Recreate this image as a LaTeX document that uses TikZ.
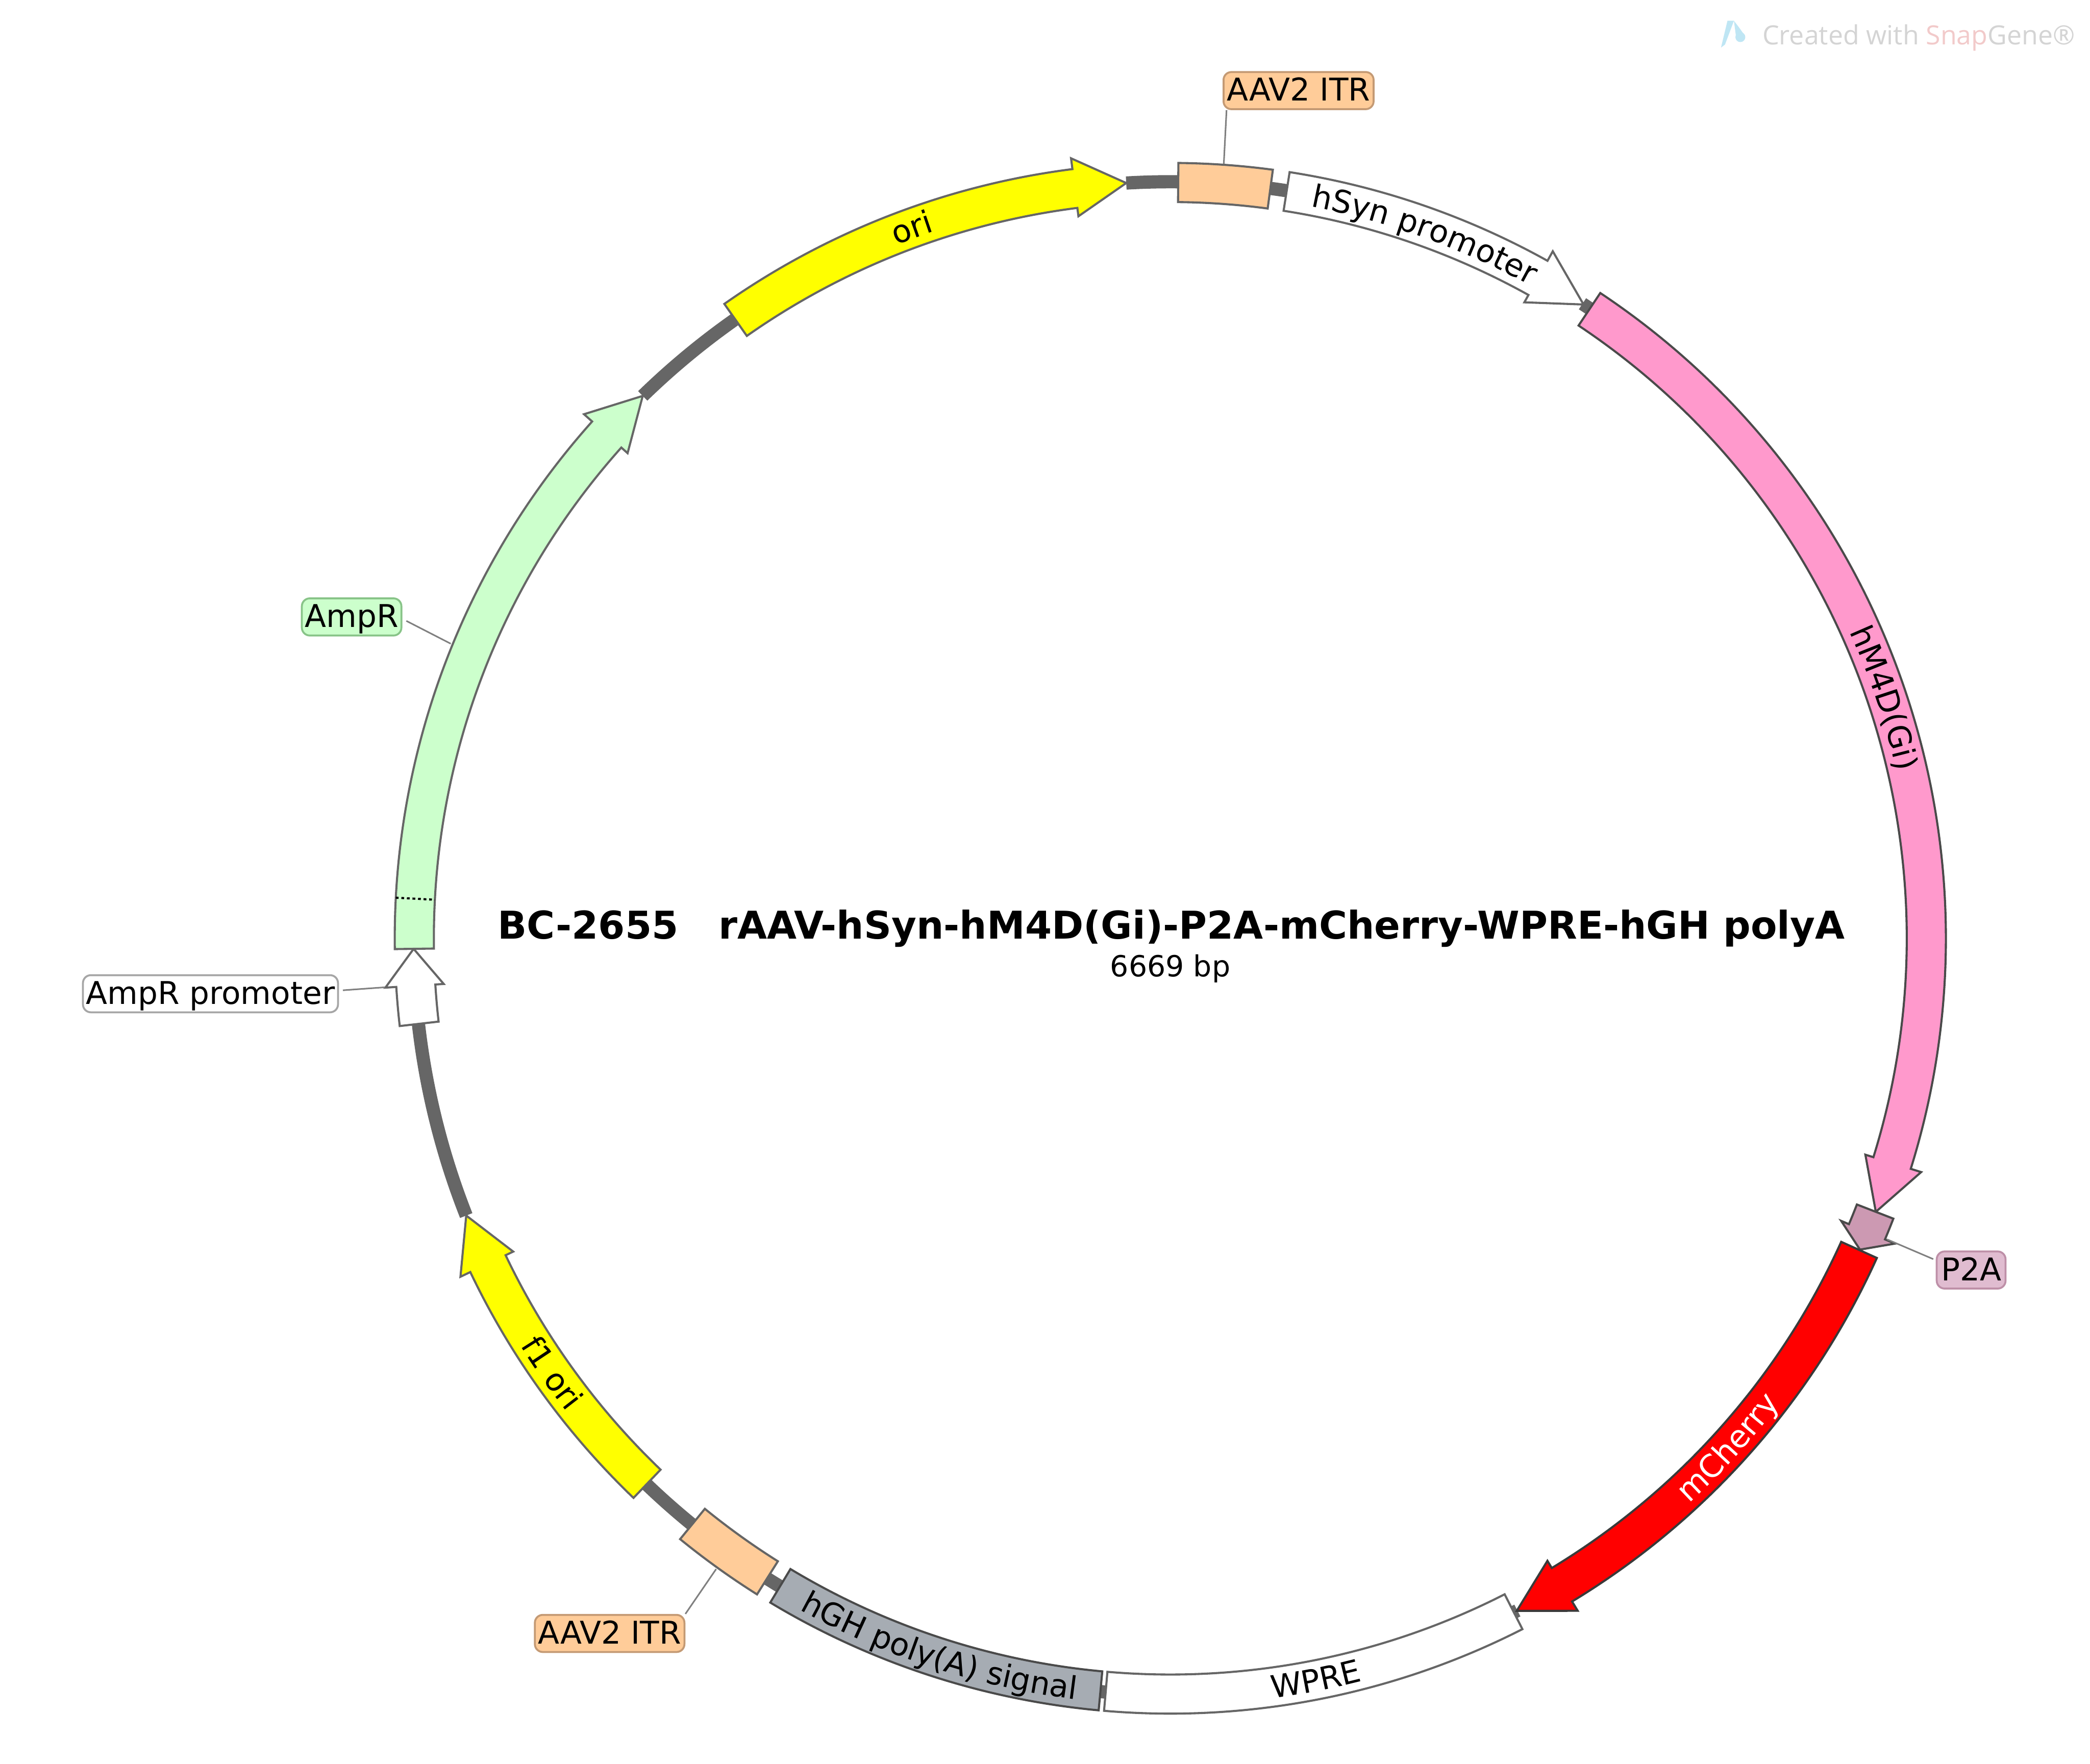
\documentclass[tikz,border=0pt]{standalone}
\usepackage{fontspec}
\setmainfont{DejaVu Sans}
\newfontfamily\wmfont{Open Sans}
\usetikzlibrary{decorations.text}
\newcommand{\lblf}{\fontsize{18pt}{20pt}\selectfont}
\definecolor{edgeA}{HTML}{666666}
\definecolor{edgeB}{HTML}{4A4A4A}
\definecolor{edgeC}{HTML}{3A3A3A}
\definecolor{itrfill}{HTML}{FFCC99}
\definecolor{itredge}{HTML}{C49A74}
\definecolor{m4fill}{HTML}{FF99CC}
\definecolor{p2fill}{HTML}{CC99B2}
\definecolor{p2edge}{HTML}{BE90A8}
\definecolor{p2lab}{HTML}{E0BCD0}
\definecolor{hghfill}{HTML}{A6ACB3}
\definecolor{ampfill}{HTML}{CCFFCC}
\definecolor{ampedge}{HTML}{88C488}
\definecolor{wmgrey}{HTML}{D4D4D4}
\definecolor{wmred}{HTML}{F2CACA}
\definecolor{wmblue}{HTML}{BFE6F4}
\definecolor{pureyellow}{HTML}{FFFF00}
\definecolor{purered}{HTML}{FF0000}
\tikzset{
  feat/.style={line width=1.2pt,line join=miter,miter limit=10},
  bb/.style={draw=edgeA,line width=7.6pt},
  lab/.style={rounded corners=0.16cm,line width=1.1pt,minimum height=0.75cm,inner xsep=0.06cm,inner ysep=0pt,font=\lblf,text height=0.50cm,text depth=0.08cm},
  lead/.style={draw=black!50,line width=0.9pt}
}
\newcommand{\Ro}{15.66}
\newcommand{\Ri}{14.87}
\newcommand{\Bo}{15.88}
\newcommand{\Bi}{14.70}
\newcommand{\Rm}{15.28}
% style, start, head base, tip
\newcommand{\featarrow}[4]{\draw[feat,#1] ({90-(#2)}:\Ro) arc[start angle={90-(#2)},end angle={90-(#3)},radius=\Ro] -- ({90-(#3)}:\Bo) -- ({90-(#4)}:\Rm) -- ({90-(#3)}:\Bi) -- ({90-(#3)}:\Ri) arc[start angle={90-(#3)},end angle={90-(#2)},radius=\Ri] -- cycle;}
\newcommand{\featbox}[3]{\draw[feat,#1] ({90-(#2)}:\Ro) arc[start angle={90-(#2)},end angle={90-(#3)},radius=\Ro] -- ({90-(#3)}:\Ri) arc[start angle={90-(#3)},end angle={90-(#2)},radius=\Ri] -- cycle;}
\newcommand{\backb}[2]{\draw[bb] ({90-(#1)}:\Rm) arc[start angle={90-(#1)},end angle={90-(#2)},radius=\Rm];}
% clockwise text: centre angle, format, text
\newcommand{\cwtext}[3]{\path[decorate,decoration={text along path,text align=center,text={|\lblf#2|#3}}] ({90-(#1-25)}:15.05) arc[start angle={90-(#1-25)},end angle={90-(#1+25)},radius=15.05];}
\newcommand{\ccwtext}[3]{\path[decorate,decoration={text along path,text align=center,text={|\lblf#2|#3}}] ({90-(#1+25)}:15.49) arc[start angle={90-(#1+25)},end angle={90-(#1-25)},radius=15.49];}
\begin{document}
\begin{tikzpicture}
\useasboundingbox[fill=white] (-23.63,18.95) rectangle (18.57,-16.67);

% backbone
\backb{356.66}{360.7}
\backb{7.5}{8.9}
\backb{33.0}{33.8}
\backb{184.9}{185.4}
\backb{211}{212.3}
\backb{219.1}{223.9}
\backb{248.5}{263.6}
\backb{315.8}{325}
\backb{152.7}{153.1}

% features
\featbox{fill=itrfill,draw=edgeB!85!white}{0.6}{7.6}
\featarrow{fill=white,draw=edgeA}{8.85}{29.1}{33.1}
\featarrow{fill=m4fill,draw=edgeB}{33.67}{107.3}{111.2}
\featarrow{fill=p2fill,draw=edgeB}{111.2}{112.85}{114.3}
\featarrow{fill=purered,draw=edgeC}{114.35}{148.8}{152.75}
\featbox{fill=white,draw=edgeA}{153}{184.9}
\featbox{fill=hghfill,draw=edgeB}{185.3}{211.05}
\featbox{fill=itrfill,draw=edgeB!85!white}{212.2}{219.2}
\featarrow{fill=pureyellow,draw=edgeA}{223.8}{244.5}{248.5}
\featarrow{fill=white,draw=edgeA}{263.5}{266.4}{269.2}
\featarrow{fill=ampfill,draw=edgeA}{269.2}{311.8}{315.8}
\featarrow{fill=pureyellow,draw=edgeA}{324.9}{352.75}{356.66}
\draw[black,line width=1.2pt,dash pattern=on 1.6pt off 1.6pt] ({90-273}:\Ro) -- ({90-273}:\Ri);

% text on features
\cwtext{19.85}{}{hSyn promoter}
\cwtext{71.4}{}{hM4D(Gi)}
\ccwtext{132.4}{\color{white}}{mCherry}
\ccwtext{168.9}{}{WPRE}
\ccwtext{198}{}{hGH poly(A) signal}
\ccwtext{234.9}{}{f1 ori}
\cwtext{340}{}{ori}

% outside labels
\node[lab,draw=itredge,fill=itrfill,minimum width=3.03cm] (itra) at (2.59,17.12) {AAV2 ITR};
\node[lab,draw=itredge,fill=itrfill,minimum width=3.02cm] (itrb) at (-11.32,-14.04) {AAV2 ITR};
\node[lab,draw=p2edge,fill=p2lab,minimum width=1.39cm] (p2a) at (16.17,-6.70) {P2A};
\node[lab,draw=ampedge,fill=ampfill,minimum width=1.94cm] (ampr) at (-16.53,6.49) {AmpR};
\node[lab,draw=black!35,fill=white,minimum width=5.15cm] (apr) at (-19.38,-1.12) {AmpR promoter};

% leader ends
\coordinate (eitra) at (1.08,15.64);
\coordinate (eitrb) at (-9.17,-12.74);
\coordinate (ep2a) at (14.47,-6.08);
\coordinate (eampr) at (-14.53,5.95);
\coordinate (eapr) at (-15.86,-0.99);
\draw[lead] ([xshift=0.08cm]itra.south west) -- (eitra);
\draw[lead] (itrb.north east) -- (eitrb);
\draw[lead] ([shift={(-0.05,0.22)}]p2a.west) -- (ep2a);
\draw[lead] ([shift={(0.08,-0.08)}]ampr.east) -- (eampr);
\draw[lead] ([shift={(0.08,0.07)}]apr.east) -- (eapr);

% centre
\node[font=\bfseries\fontsize{22pt}{24pt}\selectfont] (title) at (0.02,0.20) {BC-2655\ \ \ rAAV-hSyn-hM4D(Gi)-P2A-mCherry-WPRE-hGH polyA};
\node[font=\fontsize{16.7pt}{20pt}\selectfont] (size) at (0,-0.61) {6669 bp};

% watermark
\fill[wmblue] (11.12,17.99) -- (11.25,18.53) -- (11.38,18.53) -- (11.20,18.05) -- cycle;
\fill[wmblue] (11.38,18.53) -- (11.48,18.40) -- (11.60,18.23) -- (11.42,18.23) -- cycle;
\fill[wmblue] (11.51,18.20) circle (0.10);
\node[anchor=base west,inner sep=0pt,font=\wmfont\fontsize{15.2pt}{18pt}\selectfont,text=wmgrey] (wm) at (11.95,18.05) {Created with \textcolor{wmred}{Snap}Gene®};
\end{tikzpicture}
\end{document}
